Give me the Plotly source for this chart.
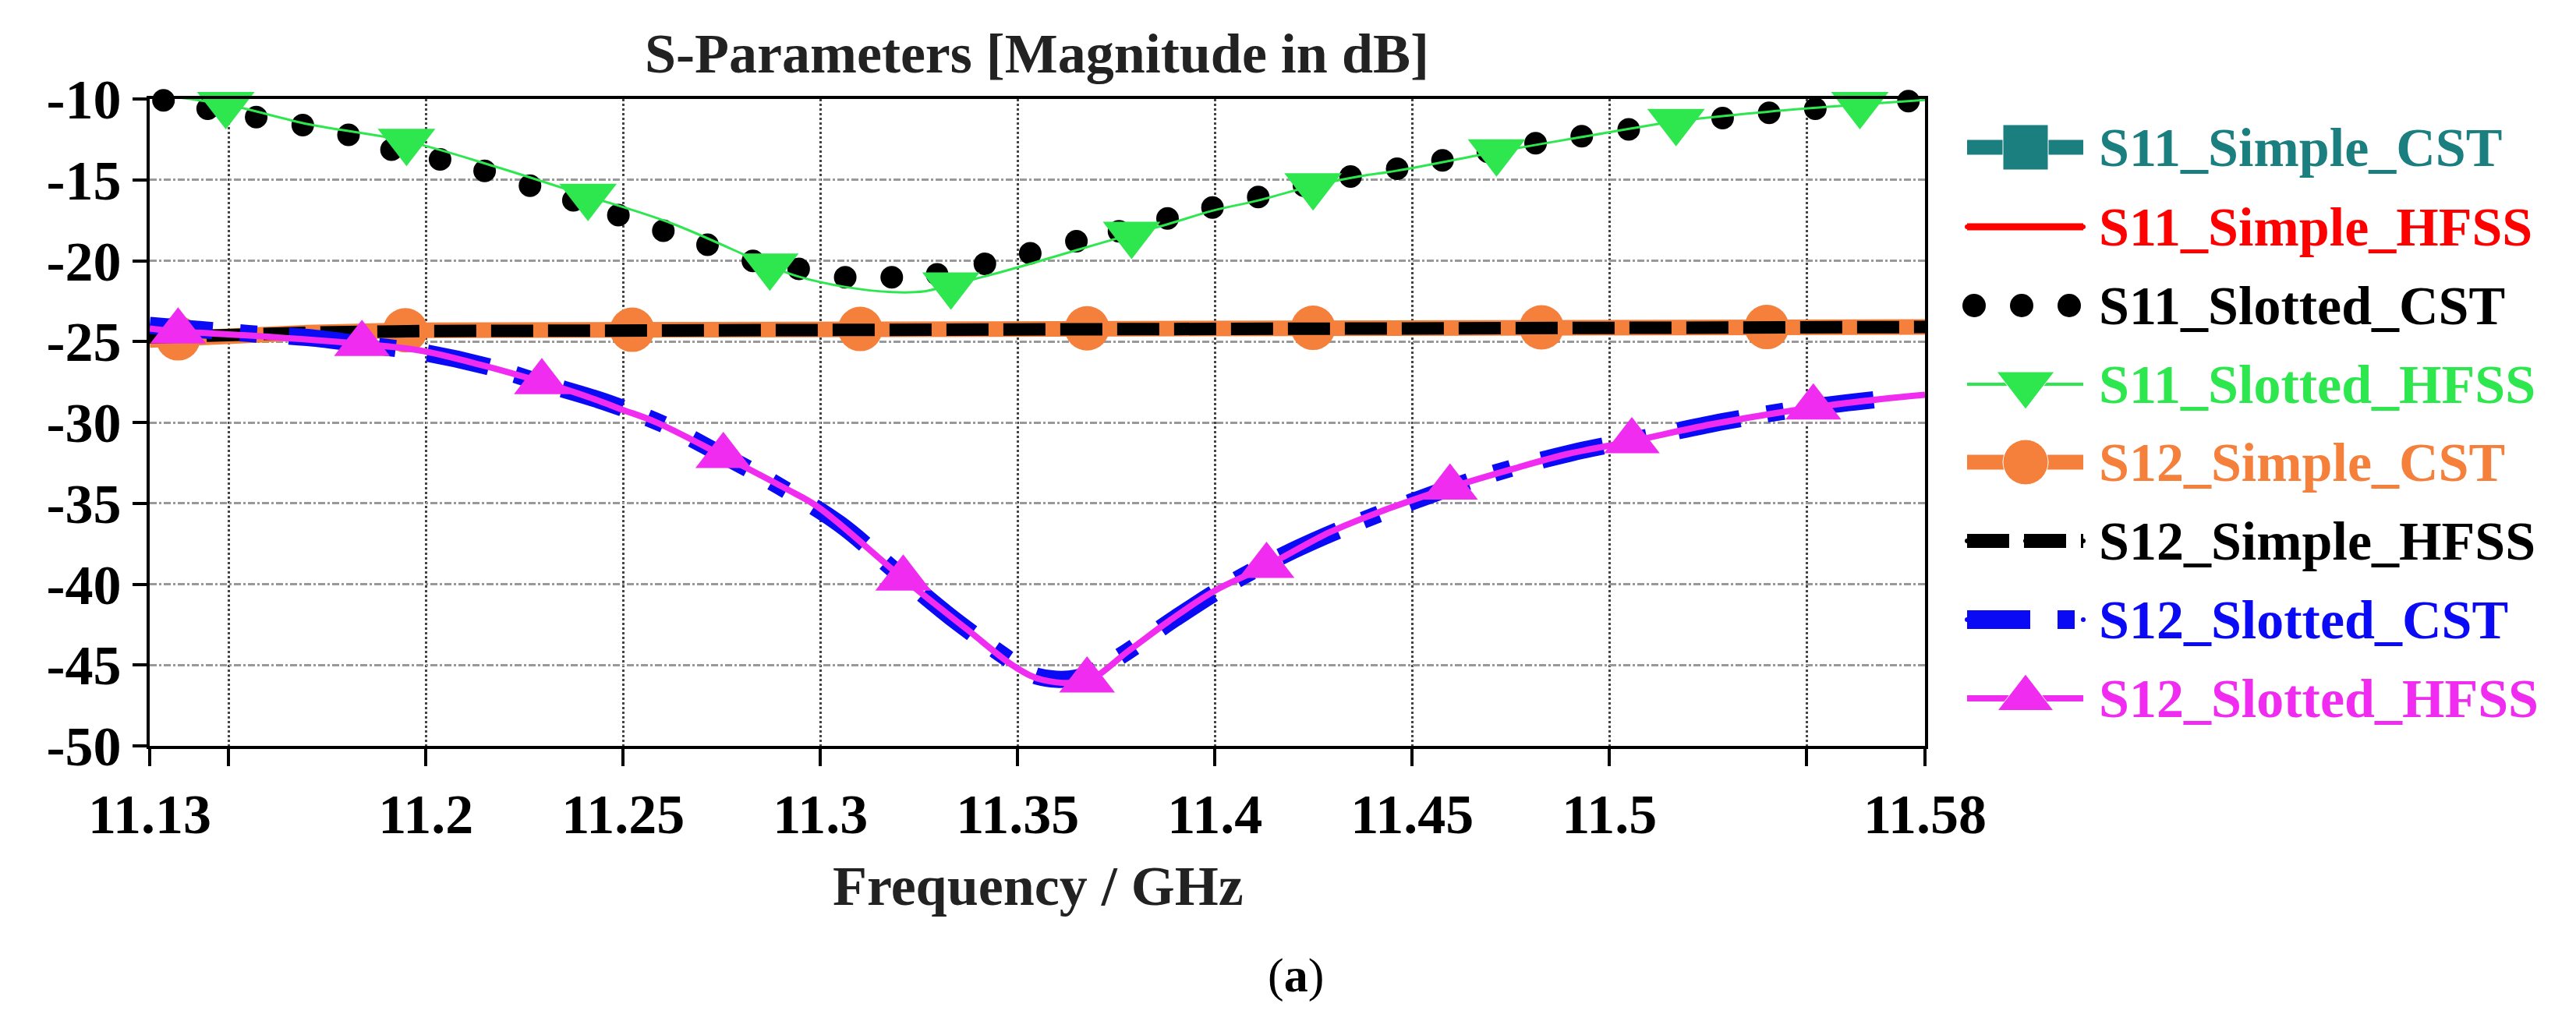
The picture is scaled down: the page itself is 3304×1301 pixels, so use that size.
import plotly.graph_objects as go

W, H = 3304, 1301
FONT = "Liberation Serif"

# ---- data (GHz, dB) ----
s11_slot_cst_f = [11.1335, 11.1447, 11.1570, 11.1688, 11.1804, 11.1913, 11.2036, 11.2149,
                  11.2264, 11.2374, 11.2488, 11.2602, 11.2714, 11.2829, 11.2945, 11.3063,
                  11.3181, 11.3296, 11.3417, 11.3532, 11.3649, 11.3757, 11.3880, 11.3994,
                  11.4110, 11.4226, 11.4344, 11.4462, 11.4577, 11.4692, 11.4813, 11.4930,
                  11.5049, 11.5166, 11.5287, 11.5405, 11.5522, 11.5646, 11.5758]
s11_slot_cst = [-10.08, -10.60, -11.12, -11.62, -12.22, -13.13, -13.74, -14.44,
                -15.36, -16.27, -17.18, -18.15, -19.01, -20.01, -20.50, -21.02,
                -21.02, -20.84, -20.19, -19.54, -18.80, -18.18, -17.39, -16.71,
                -16.06, -15.36, -14.80, -14.31, -13.79, -13.27, -12.74, -12.30,
                -11.88, -11.49, -11.18, -10.86, -10.60, -10.34, -10.13]

s11_slot_hfss_f = [11.13, 11.1493, 11.1704, 11.1951, 11.2176, 11.2411, 11.2625, 11.2872,
                   11.2943, 11.3063, 11.3181, 11.3264, 11.3331, 11.3417, 11.3532, 11.3649,
                   11.3789, 11.3885, 11.3992, 11.4110, 11.4249, 11.4367, 11.4460, 11.4714,
                   11.4930, 11.5169, 11.5405, 11.5635, 11.58]
s11_slot_hfss = [-9.70, -10.34, -11.57, -12.61, -14.18, -16.01, -17.71, -20.32,
                 -20.97, -21.62, -21.94, -21.89, -21.49, -20.97, -20.19, -19.35,
                 -18.36, -17.71, -16.92, -16.27, -15.36, -14.78, -14.44, -13.27,
                 -12.35, -11.38, -10.78, -10.34, -10.06]
s11_slot_hfss_marks = [11.1493, 11.1951, 11.2411, 11.2872, 11.3331, 11.3789, 11.4249,
                       11.4714, 11.5169, 11.5635]

s12_simple_cst_f = [11.13, 11.1372, 11.15, 11.17, 11.1948, 11.2523, 11.3101, 11.3676,
                    11.4249, 11.4828, 11.5399, 11.58]
s12_simple_cst = [-24.90, -24.80, -24.60, -24.45, -24.30, -24.27, -24.22, -24.18,
                  -24.15, -24.12, -24.10, -24.10]
s12_simple_cst_marks = [11.1372, 11.1948, 11.2523, 11.3101, 11.3676, 11.4249, 11.4828, 11.5399]

s12_simple_hfss_f = [11.13, 11.15, 11.17, 11.2, 11.25, 11.3, 11.35, 11.4, 11.45, 11.5, 11.58]
s12_simple_hfss = [-24.75, -24.55, -24.45, -24.35, -24.30, -24.25, -24.20, -24.17,
                   -24.14, -24.12, -24.10]

s12_slot_cst_f = [11.13, 11.14, 11.155, 11.17, 11.185, 11.2, 11.215, 11.23, 11.245, 11.26,
                  11.275, 11.29, 11.305, 11.32, 11.335, 11.35, 11.355, 11.365, 11.375,
                  11.39, 11.405, 11.42, 11.435, 11.45, 11.47, 11.49, 11.51, 11.53, 11.55,
                  11.567]
s12_slot_cst = [-24.0, -24.2, -24.5, -24.75, -25.2, -25.7, -26.5, -27.6, -28.7, -30.1,
                -32.0, -34.0, -36.3, -39.4, -42.4, -45.0, -45.7, -45.8, -44.6,
                -42.1, -39.8, -37.9, -36.3, -34.9, -33.2, -31.9, -30.9, -29.9, -29.1,
                -28.6]

s12_slot_hfss_f = [11.13, 11.1372, 11.1554, 11.1838, 11.1983, 11.2143, 11.2294, 11.2411,
                   11.2497, 11.2583, 11.2754, 11.2913, 11.2993, 11.3210, 11.3371, 11.3495,
                   11.3564, 11.3676, 11.3783, 11.3885, 11.3998, 11.4131, 11.4292, 11.4410,
                   11.4596, 11.4757, 11.4896, 11.5057, 11.5260, 11.5517, 11.5689, 11.58]
s12_slot_hfss = [-24.19, -24.37, -24.63, -25.15, -25.54, -26.46, -27.50, -28.42,
                 -29.20, -29.98, -32.07, -34.10, -35.21, -39.65, -42.78, -45.14,
                 -45.92, -45.95, -44.09, -42.26, -40.43, -38.87, -36.78, -35.60,
                 -34.03, -32.86, -31.94, -31.16, -30.11, -29.07, -28.55, -28.29]
s12_slot_hfss_marks = [11.1372, 11.1838, 11.2294, 11.2754, 11.3210, 11.3676, 11.4131,
                       11.4596, 11.5057, 11.5517]

x_ticks = [11.13, 11.15, 11.2, 11.25, 11.3, 11.35, 11.4, 11.45, 11.5, 11.55, 11.58]
x_labels = ["11.13", "", "11.2", "11.25", "11.3", "11.35", "11.4", "11.45", "11.5", "", "11.58"]
y_ticks = [-10, -15, -20, -25, -30, -35, -40, -45, -50]
y_labels = ["-10", "-15", "-20", "-25", "-30", "-35", "-40", "-45", "-50"]

legend_names = ["S11_Simple_CST", "S11_Simple_HFSS", "S11_Slotted_CST", "S11_Slotted_HFSS",
                "S12_Simple_CST", "S12_Simple_HFSS", "S12_Slotted_CST", "S12_Slotted_HFSS"]

TEAL, RED, BLACK, GREEN = "#1b7f7f", "#ff0000", "#000000", "#2ee64e"
ORANGE, BLUE, MAGENTA = "#f4803c", "#0a0af5", "#f02cf0"
legend_colors = [TEAL, RED, BLACK, GREEN, ORANGE, BLACK, BLUE, MAGENTA]

BLUE_DASH = "81px,35px,22px,41px"
BLACK_DASH = "54px,19px"


def mark_sizes(freqs, marks, size):
    return [size if f in marks else 0 for f in freqs]


fig = go.Figure()

# main curves, in the original drawing order
fig.add_trace(go.Scatter(x=s11_slot_cst_f, y=s11_slot_cst, mode="markers",
                         marker=dict(color=BLACK, size=29, opacity=1), cliponaxis=False))
fig.add_trace(go.Scatter(x=s11_slot_hfss_f, y=s11_slot_hfss, mode="lines+markers",
                         line=dict(color=GREEN, width=3, shape="spline"),
                         marker=dict(symbol="triangle-down", color=GREEN, line_width=0, opacity=1,
                                     size=mark_sizes(s11_slot_hfss_f, s11_slot_hfss_marks, 64)),
                         cliponaxis=False))
fig.add_trace(go.Scatter(x=s12_simple_cst_f, y=s12_simple_cst, mode="lines+markers",
                         line=dict(color=ORANGE, width=20),
                         marker=dict(symbol="circle", color=ORANGE, line_width=0, opacity=1,
                                     size=mark_sizes(s12_simple_cst_f, s12_simple_cst_marks, 57)),
                         cliponaxis=False))
fig.add_trace(go.Scatter(x=s12_simple_hfss_f, y=s12_simple_hfss, mode="lines",
                         line=dict(color=BLACK, width=16, dash=BLACK_DASH)))
fig.add_trace(go.Scatter(x=s12_slot_cst_f, y=s12_slot_cst, mode="lines",
                         line=dict(color=BLUE, width=22, dash=BLUE_DASH, shape="spline")))
fig.add_trace(go.Scatter(x=s12_slot_hfss_f, y=s12_slot_hfss, mode="lines+markers",
                         line=dict(color=MAGENTA, width=8, shape="spline"),
                         marker=dict(symbol="triangle-up", color=MAGENTA, line_width=0, opacity=1,
                                     size=mark_sizes(s12_slot_hfss_f, s12_slot_hfss_marks, 62)),
                         cliponaxis=False))

# legend drawn on a pixel overlay (x2/y2) so the samples can be as large as in the original
rows = [181, 283, 384, 485, 585, 686, 787, 888]
lx0, lxm, lx1 = 2515, 2590, 2664
samples = [
    dict(line=dict(color=TEAL, width=19), marker=dict(symbol="square", size=[0, 58, 0], color=TEAL, opacity=1)),
    dict(line=dict(color=RED, width=9), marker=dict(size=0)),
    None,
    dict(line=dict(color=GREEN, width=4), marker=dict(symbol="triangle-down", size=[0, 64, 0], color=GREEN, opacity=1)),
    dict(line=dict(color=ORANGE, width=19), marker=dict(symbol="circle", size=[0, 58, 0], color=ORANGE, opacity=1)),
    dict(line=dict(color=BLACK, width=18, dash=BLACK_DASH), marker=dict(size=0)),
    dict(line=dict(color=BLUE, width=24, dash=BLUE_DASH), marker=dict(size=0)),
    dict(line=dict(color=MAGENTA, width=8), marker=dict(symbol="triangle-up", size=[0, 62, 0], color=MAGENTA, opacity=1)),
]
for i, (yy, smp) in enumerate(zip(rows, samples)):
    if smp is None:
        fig.add_trace(go.Scatter(x=[2524, 2585, 2646], y=[yy] * 3, mode="markers",
                                 marker=dict(color=BLACK, size=30, opacity=1), xaxis="x2", yaxis="y2",
                                 cliponaxis=False))
    else:
        fig.add_trace(go.Scatter(x=[lx0, lxm, lx1], y=[yy] * 3, mode="lines+markers",
                                 xaxis="x2", yaxis="y2", cliponaxis=False, **smp))
    fig.add_annotation(x=2682, y=yy, xref="x2", yref="y2", xanchor="left", yanchor="middle",
                       text=legend_names[i], showarrow=False,
                       font=dict(family=FONT, size=70, color=legend_colors[i], weight="bold"))

fig.add_annotation(x=1323, y=1129, xref="x2", yref="y2", text="Frequency / GHz",
                   showarrow=False, font=dict(family=FONT, size=72, color="#222", weight="bold"))
fig.add_annotation(x=1654, y=1243, xref="x2", yref="y2", text="(<b>a</b>)",
                   showarrow=False, font=dict(family=FONT, size=62, color="black"))

fig.update_layout(
    width=W, height=H, autosize=False, showlegend=False,
    margin=dict(l=0, r=0, t=0, b=0, autoexpand=False),
    paper_bgcolor="white", plot_bgcolor="rgba(0,0,0,0)",
    title=dict(text="S-Parameters [Magnitude in dB]", x=1322 / W, xanchor="center",
               y=1 - 60 / H, yanchor="middle",
               font=dict(family=FONT, size=72, color="#222", weight="bold")),
    xaxis=dict(domain=[184 / W, 2461 / W], range=[11.13, 11.58], tickvals=x_ticks,
               ticktext=x_labels, ticks="outside", ticklen=22, tickwidth=4, tickcolor="black",
               showline=True, mirror=True, linecolor="black", linewidth=4,
               showgrid=True, gridcolor="#444", gridwidth=3, griddash="dot",
               zeroline=False, automargin=False,
               tickfont=dict(family=FONT, size=72, color="black", weight="bold")),
    yaxis=dict(domain=[1 - 949 / H, 1 - 119 / H], range=[-50, -10], tickvals=y_ticks,
               ticktext=y_labels, ticks="outside", ticklen=18, tickwidth=4, tickcolor="black",
               showline=True, mirror=True, linecolor="black", linewidth=4,
               showgrid=True, gridcolor="#999", gridwidth=3, griddash="dashdot",
               zeroline=False, automargin=False,
               tickfont=dict(family=FONT, size=72, color="black", weight="bold")),
    xaxis2=dict(domain=[0, 1], range=[0, W], visible=False, anchor="y2", automargin=False),
    yaxis2=dict(domain=[0, 1], range=[H, 0], visible=False, anchor="x2", automargin=False),
)

fig.write_html("out.html")
